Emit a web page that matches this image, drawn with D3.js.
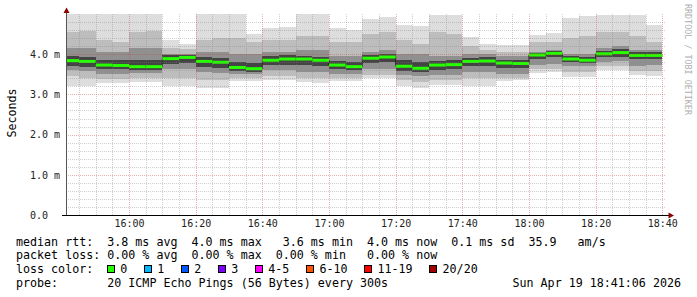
<!DOCTYPE html>
<html>
<head>
<meta charset="utf-8">
<script src="https://cdn.jsdelivr.net/npm/d3@7"></script>
<style>
  body { margin: 0; background: #fff; }
  svg { display: block; }
  text { font-family: "DejaVu Sans Mono", monospace; }
</style>
</head>
<body>
<div id="chart"></div>
<script>
// step start times (5 min steps, 2026-04-19)
const stepTimes = ["15:40","15:45","15:50","15:55","16:00","16:05","16:10","16:15","16:20","16:25","16:30","16:35",
  "16:40","16:45","16:50","16:55","17:00","17:05","17:10","17:15","17:20","17:25","17:30","17:35",
  "17:40","17:45","17:50","17:55","18:00","18:05","18:10","18:15","18:20","18:25","18:30","18:35"];

// rtt values in ms
const medianRtt = [3.84,3.82,3.73,3.72,3.69,3.69,3.89,3.92,3.82,3.80,3.67,3.64,
  3.85,3.88,3.88,3.85,3.73,3.69,3.90,3.93,3.70,3.65,3.73,3.74,
  3.82,3.83,3.78,3.77,3.98,4.02,3.88,3.85,4.01,4.04,3.97,3.97];
const maxRtt = [5.10,5.10,5.10,5.10,5.10,5.10,4.36,4.25,5.10,5.10,5.10,4.50,
  4.65,4.67,5.10,5.10,4.65,4.59,4.88,4.92,4.73,4.69,4.98,4.98,
  4.44,4.25,4.24,4.23,4.47,4.53,4.89,4.94,4.97,4.98,4.98,4.72];
const p90Rtt = [4.55,4.58,4.35,4.30,4.55,4.58,4.15,4.12,4.35,4.40,4.40,4.30,
  4.35,4.35,4.45,4.45,4.30,4.30,4.50,4.55,4.35,4.25,4.55,4.50,
  4.20,4.10,4.05,4.05,4.30,4.30,4.40,4.45,4.55,4.55,4.45,4.30];
const p75Rtt = [4.15,4.15,4.05,4.05,4.15,4.15,4.00,4.00,4.05,4.05,4.00,4.00,
  4.05,4.05,4.10,4.10,3.95,3.95,4.05,4.10,4.00,4.00,3.95,3.95,
  4.00,4.00,3.95,3.95,4.05,4.10,4.00,4.00,4.15,4.20,4.10,4.10];
const p60Rtt = [3.95,3.93,3.85,3.85,3.85,3.85,3.97,3.98,3.92,3.90,3.80,3.78,
  3.95,3.97,3.96,3.94,3.83,3.80,3.98,4.00,3.85,3.80,3.84,3.85,
  3.90,3.92,3.86,3.86,4.04,4.08,3.95,3.93,4.08,4.12,4.05,4.05];
const p40Rtt = [3.70,3.68,3.62,3.62,3.60,3.60,3.75,3.78,3.68,3.66,3.58,3.56,
  3.72,3.74,3.72,3.70,3.62,3.60,3.78,3.80,3.58,3.55,3.60,3.62,
  3.70,3.70,3.66,3.66,3.88,3.92,3.80,3.78,3.92,3.94,3.88,3.88];
const p25Rtt = [3.60,3.58,3.50,3.50,3.52,3.52,3.62,3.62,3.55,3.52,3.50,3.50,
  3.60,3.60,3.55,3.55,3.50,3.50,3.62,3.62,3.48,3.45,3.48,3.48,
  3.55,3.55,3.50,3.50,3.72,3.75,3.70,3.70,3.80,3.82,3.70,3.72];
const p10Rtt = [3.45,3.42,3.38,3.38,3.42,3.42,3.42,3.42,3.35,3.35,3.42,3.42,
  3.45,3.45,3.42,3.42,3.42,3.42,3.48,3.48,3.35,3.32,3.35,3.35,
  3.40,3.40,3.42,3.42,3.62,3.62,3.55,3.55,3.70,3.70,3.58,3.58];
const minRtt = [3.22,3.22,3.28,3.28,3.32,3.32,3.20,3.20,3.17,3.17,3.34,3.34,
  3.36,3.36,3.30,3.28,3.34,3.34,3.40,3.40,3.20,3.16,3.24,3.24,
  3.22,3.22,3.34,3.36,3.54,3.55,3.44,3.44,3.60,3.60,3.48,3.46];

const yTickValues = [0, 1, 2, 3, 4];
const yTickLabels = ["0.0", "1.0 m", "2.0 m", "3.0 m", "4.0 m"];
const xTickLabels = ["16:00","16:20","16:40","17:00","17:20","17:40","18:00","18:20","18:40"];

const lossLabels = ["0", "1", "2", "3", "4-5", "6-10", "11-19", "20/20"];
const lossColors = ["#26ff00", "#00b8ff", "#0059ff", "#7e00ff", "#ff00ff", "#ff5500", "#ff0000", "#a00000"];

const legendRows = [
  "median rtt:  3.8 ms avg  4.0 ms max   3.6 ms min  4.0 ms now  0.1 ms sd  35.9   am/s",
  "packet loss: 0.00 % avg  0.00 % max  0.00 % min   0.00 % now",
  "loss color:",
  "probe:       20 ICMP Echo Pings (56 Bytes) every 300s"
];
const stampText = "Sun Apr 19 18:41:06 2026";

const W = 697, H = 297;
const plotL = 66, plotR = 666, plotT = 14, plotB = 215;
const charW = 7.02;

const parseT = d3.timeParse("%Y-%m-%d %H:%M:%S");
const day = "2026-04-19 ";
const x = d3.scaleTime()
  .domain([parseT(day + "15:41:06"), parseT(day + "18:41:06")])
  .range([plotL, plotR]);
const y = d3.scaleLinear().domain([0, 5]).range([plotB, plotT]);

const steps = stepTimes.map((t, i) => {
  const start = parseT(day + t + ":00");
  return {
    start, end: d3.timeMinute.offset(start, 5),
    median: medianRtt[i], max: maxRtt[i], p90: p90Rtt[i], p75: p75Rtt[i], p60: p60Rtt[i],
    p40: p40Rtt[i], p25: p25Rtt[i], p10: p10Rtt[i], min: minRtt[i]
  };
});

const svg = d3.select("#chart").append("svg")
  .attr("width", W).attr("height", H);
svg.append("rect").attr("width", W).attr("height", H).attr("fill", "#fff");

svg.append("clipPath").attr("id", "plot")
  .append("rect").attr("x", plotL).attr("y", plotT)
  .attr("width", plotR - plotL).attr("height", plotB - plotT);

// smoke
const bands = [
  ["min", "max", "#dddddd"],
  ["p10", "p90", "#bdbdbd"],
  ["p25", "p75", "#909090"],
  ["p40", "p60", "#444444"]
];
const smoke = svg.append("g").attr("clip-path", "url(#plot)");
bands.forEach(([lo, hi, col]) => {
  smoke.selectAll(null)
    .data(steps)
    .join("rect")
      .attr("x", d => x(d.start))
      .attr("width", d => x(d.end) - x(d.start))
      .attr("y", d => y(d[hi]))
      .attr("height", d => y(d[lo]) - y(d[hi]))
      .attr("fill", col)
      .attr("shape-rendering", "crispEdges");
});

// median line
const medPts = steps.map(d => [x(d.start), y(d.median)]);
medPts.push([x(steps[steps.length - 1].end), y(steps[steps.length - 1].median)]);
smoke.append("path")
  .attr("d", d3.line().curve(d3.curveStepAfter)(medPts))
  .attr("fill", "none")
  .attr("stroke", "#202020")
  .attr("stroke-width", 1);
smoke.selectAll(null)
  .data(steps)
  .join("rect")
    .attr("x", d => x(d.start))
    .attr("width", d => x(d.end) - x(d.start))
    .attr("y", d => y(d.median) - 1.5)
    .attr("height", 3)
    .attr("fill", lossColors[0]);

// grid on top
const grid = svg.append("g").attr("shape-rendering", "crispEdges");
const minorY = d3.range(1, 25).map(i => i / 5).filter(v => Math.abs(v - Math.round(v)) > 1e-6);
const majorY = [1, 2, 3, 4];
const [t0, t1] = x.domain();
const allMinutes = d3.timeMinute.every(5).range(t0, t1);
const minorX = allMinutes.filter(t => t.getMinutes() % 20 !== 0);
const majorX = allMinutes.filter(t => t.getMinutes() % 20 === 0);

const minorCol = "rgba(130,130,130,0.38)", majorCol = "rgba(210,50,50,0.38)";
grid.selectAll(null).data(minorY).join("line")
  .attr("x1", plotL).attr("x2", plotR)
  .attr("y1", d => Math.round(y(d)) + 0.5).attr("y2", d => Math.round(y(d)) + 0.5)
  .attr("stroke", minorCol).attr("stroke-dasharray", "1,1");
grid.selectAll(null).data(minorX).join("line")
  .attr("x1", d => Math.round(x(d)) + 0.5).attr("x2", d => Math.round(x(d)) + 0.5)
  .attr("y1", plotT).attr("y2", plotB)
  .attr("stroke", minorCol).attr("stroke-dasharray", "1,1");
grid.selectAll(null).data(majorY).join("line")
  .attr("x1", plotL).attr("x2", plotR)
  .attr("y1", d => Math.round(y(d)) + 0.5).attr("y2", d => Math.round(y(d)) + 0.5)
  .attr("stroke", majorCol).attr("stroke-dasharray", "1,1");
grid.selectAll(null).data(majorX).join("line")
  .attr("x1", d => Math.round(x(d)) + 0.5).attr("x2", d => Math.round(x(d)) + 0.5)
  .attr("y1", plotT).attr("y2", plotB)
  .attr("stroke", majorCol).attr("stroke-dasharray", "1,1");

// axes lines + arrows
svg.append("line").attr("x1", plotL + 0.5).attr("x2", plotL + 0.5)
  .attr("y1", plotB + 0.5).attr("y2", 12)
  .attr("stroke", "#555").attr("shape-rendering", "crispEdges");
svg.append("line").attr("x1", 62).attr("x2", 669)
  .attr("y1", plotB + 0.5).attr("y2", plotB + 0.5)
  .attr("stroke", "#000").attr("shape-rendering", "crispEdges");
svg.append("path").attr("d", "M63.5,13L69.5,13L66.5,7.5Z").attr("fill", "#8b0000");
svg.append("path").attr("d", "M668.5,212.5L668.5,218.5L674,215.5Z").attr("fill", "#8b0000");

// tick labels
const yAxis = svg.append("g")
  .attr("transform", "translate(30,0)")
  .call(d3.axisLeft(y).tickValues(yTickValues).tickFormat((d, i) => yTickLabels[i]).tickSize(0));
yAxis.select(".domain").remove();
yAxis.selectAll("text")
  .attr("x", 0).attr("text-anchor", "start")
  .attr("font-family", "DejaVu Sans Mono").attr("font-size", "10px").attr("fill", "#222");

const xTicks = xTickLabels.map(s => parseT(day + s + ":00"));
const xAxis = svg.append("g")
  .attr("transform", `translate(0,${plotB})`)
  .call(d3.axisBottom(x).tickValues(xTicks).tickFormat((d, i) => xTickLabels[i]).tickSize(0).tickPadding(5));
xAxis.select(".domain").remove();
xAxis.selectAll("text")
  .attr("font-family", "DejaVu Sans Mono").attr("font-size", "10px").attr("fill", "#222");

// y title
svg.append("text")
  .attr("transform", "translate(15.5,113) rotate(-90)")
  .attr("text-anchor", "middle")
  .attr("font-size", "11.66px")
  .attr("fill", "#000")
  .text("Seconds");

// watermark
svg.append("text")
  .attr("transform", "translate(685,4) rotate(90)")
  .attr("font-size", "8.4px")
  .attr("fill", "#b0b0b0")
  .text("RRDTOOL / TOBI OETIKER");

// legend (fixed character pitch like rrdtool)
const rowY = [245.5, 259.2, 272.9, 286.6];
svg.selectAll(null).data(legendRows).join("text")
  .attr("x", 16).attr("y", (d, i) => rowY[i])
  .attr("xml:space", "preserve").style("white-space", "pre")
  .attr("font-size", "11.66px").attr("fill", "#000")
  .attr("textLength", d => (charW * d.length).toFixed(2))
  .attr("lengthAdjust", "spacing")
  .text(d => d);

svg.append("text")
  .attr("x", 681).attr("y", rowY[3]).attr("text-anchor", "end")
  .attr("font-size", "11.66px").attr("fill", "#000")
  .attr("textLength", (charW * stampText.length).toFixed(2))
  .attr("lengthAdjust", "spacing")
  .text(stampText);

let lx = 16 + 13 * charW - 0.5;
const lossItems = lossLabels.map((lab, i) => {
  const item = { lab, col: lossColors[i], x: lx };
  lx += 30 + charW * lab.length;
  return item;
});
const lg = svg.append("g");
lg.selectAll("rect").data(lossItems).join("rect")
  .attr("x", d => Math.round(d.x) + 0.5).attr("y", 265.5)
  .attr("width", 7).attr("height", 7)
  .attr("fill", d => d.col).attr("stroke", "#000").attr("stroke-width", 1)
  .attr("shape-rendering", "crispEdges");
lg.selectAll("text").data(lossItems).join("text")
  .attr("x", d => d.x + 13.5).attr("y", rowY[2])
  .attr("font-size", "11.66px").attr("fill", "#000")
  .text(d => d.lab);
</script>
</body>
</html>
